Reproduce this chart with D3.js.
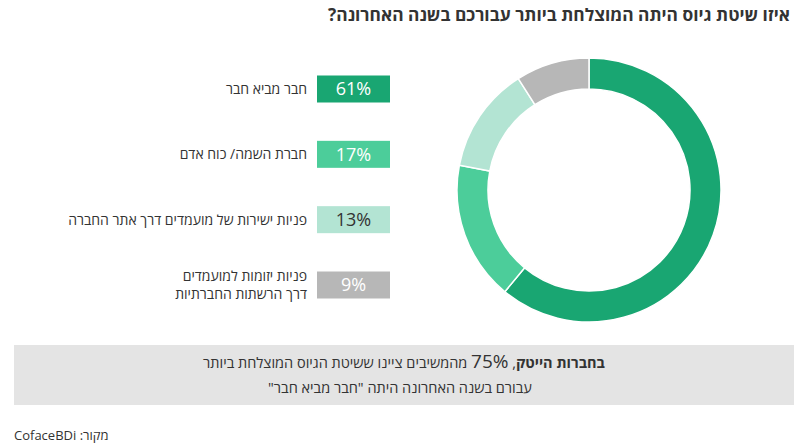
<!DOCTYPE html>
<html><head><meta charset="utf-8">
<script src="https://cdn.jsdelivr.net/npm/d3@7"></script>
<style>html,body{margin:0;padding:0;background:#fff}svg{display:block;font-family:"Open Sans",sans-serif}</style>
</head><body>
<svg id="c" width="800" height="445"></svg>
<script>
const title = "איזו שיטת גיוס היתה המוצלחת ביותר עבורכם בשנה האחרונה?";
const categories = ["חבר מביא חבר", "חברת השמה/ כוח אדם", "פניות ישירות של מועמדים דרך אתר החברה", "פניות יזומות למועמדים דרך הרשתות החברתיות"];
const categoryLines = [["חבר מביא חבר"], ["חברת השמה/ כוח אדם"], ["פניות ישירות של מועמדים דרך אתר החברה"], ["פניות יזומות למועמדים", "דרך הרשתות החברתיות"]];
const values = [61, 17, 13, 9];
const colors = ["#19a672", "#4ccd9a", "#b3e4d3", "#b7b7b7"];
const textColors = ["#ffffff", "#ffffff", "#333333", "#ffffff"];
const noteBold = "בחברות הייטק";
const notePct = "75%";
const noteRest = "מהמשיבים ציינו ששיטת הגיוס המוצלחת ביותר";
const noteLine2 = "עבורם בשנה האחרונה היתה \"חבר מביא חבר\"";
const source = "מקור: CofaceBDi";

const svg = d3.select("#c");

svg.append("text").attr("x", 790).attr("y", 21).attr("direction", "rtl").attr("text-anchor", "start")
  .attr("font-size", 17).attr("font-weight", "bold").attr("fill", "#333")
  .attr("textLength", 462).attr("lengthAdjust", "spacingAndGlyphs").text(title);

const y = d3.scalePoint().domain(categories).range([89, 285]);
const boxW = 73, boxH = 27, boxX = 317;

const g = svg.append("g");
categories.forEach((c, i) => {
  const cy = y(c);
  g.append("rect").attr("x", boxX).attr("y", cy - boxH / 2).attr("width", boxW).attr("height", boxH).attr("fill", colors[i]);
  g.append("text").attr("x", boxX + boxW / 2).attr("y", cy).attr("dy", "0.35em").attr("text-anchor", "middle")
    .attr("font-size", 18).attr("fill", textColors[i]).text(values[i] + "%");
  const lines = categoryLines[i];
  const lh = 18;
  lines.forEach((ln, j) => {
    g.append("text").attr("x", 307).attr("y", cy + (j - (lines.length - 1) / 2) * lh).attr("dy", "0.35em")
      .attr("direction", "rtl").attr("text-anchor", "start").attr("font-size", 14).attr("fill", "#333").text(ln);
  });
});

const pie = d3.pie().sort(null).value(d => d);
const arc = d3.arc().innerRadius(101).outerRadius(132);
svg.append("g").attr("transform", "translate(589,190)")
  .selectAll("path").data(pie(values)).join("path")
  .attr("d", arc).attr("fill", (d, i) => colors[i]).attr("stroke", "#fff").attr("stroke-width", 1.5);

svg.append("rect").attr("x", 14).attr("y", 345).attr("width", 780).attr("height", 60).attr("fill", "#e4e4e4");
const t1 = svg.append("text").attr("x", 404).attr("y", 368).attr("direction", "rtl").attr("text-anchor", "middle")
  .attr("font-size", 14.5).attr("fill", "#333");
t1.append("tspan").attr("font-weight", "bold").text(noteBold);
t1.append("tspan").text(", ");
t1.append("tspan").attr("font-size", 19).text(notePct);
t1.append("tspan").text(" " + noteRest);
svg.append("text").attr("x", 400).attr("y", 393).attr("direction", "rtl").attr("text-anchor", "middle")
  .attr("font-size", 14.5).attr("fill", "#333").text(noteLine2);

svg.append("text").attr("x", 14).attr("y", 440).attr("direction", "rtl").attr("text-anchor", "end")
  .attr("font-size", 13).attr("fill", "#333").text(source);
</script>
</body></html>
